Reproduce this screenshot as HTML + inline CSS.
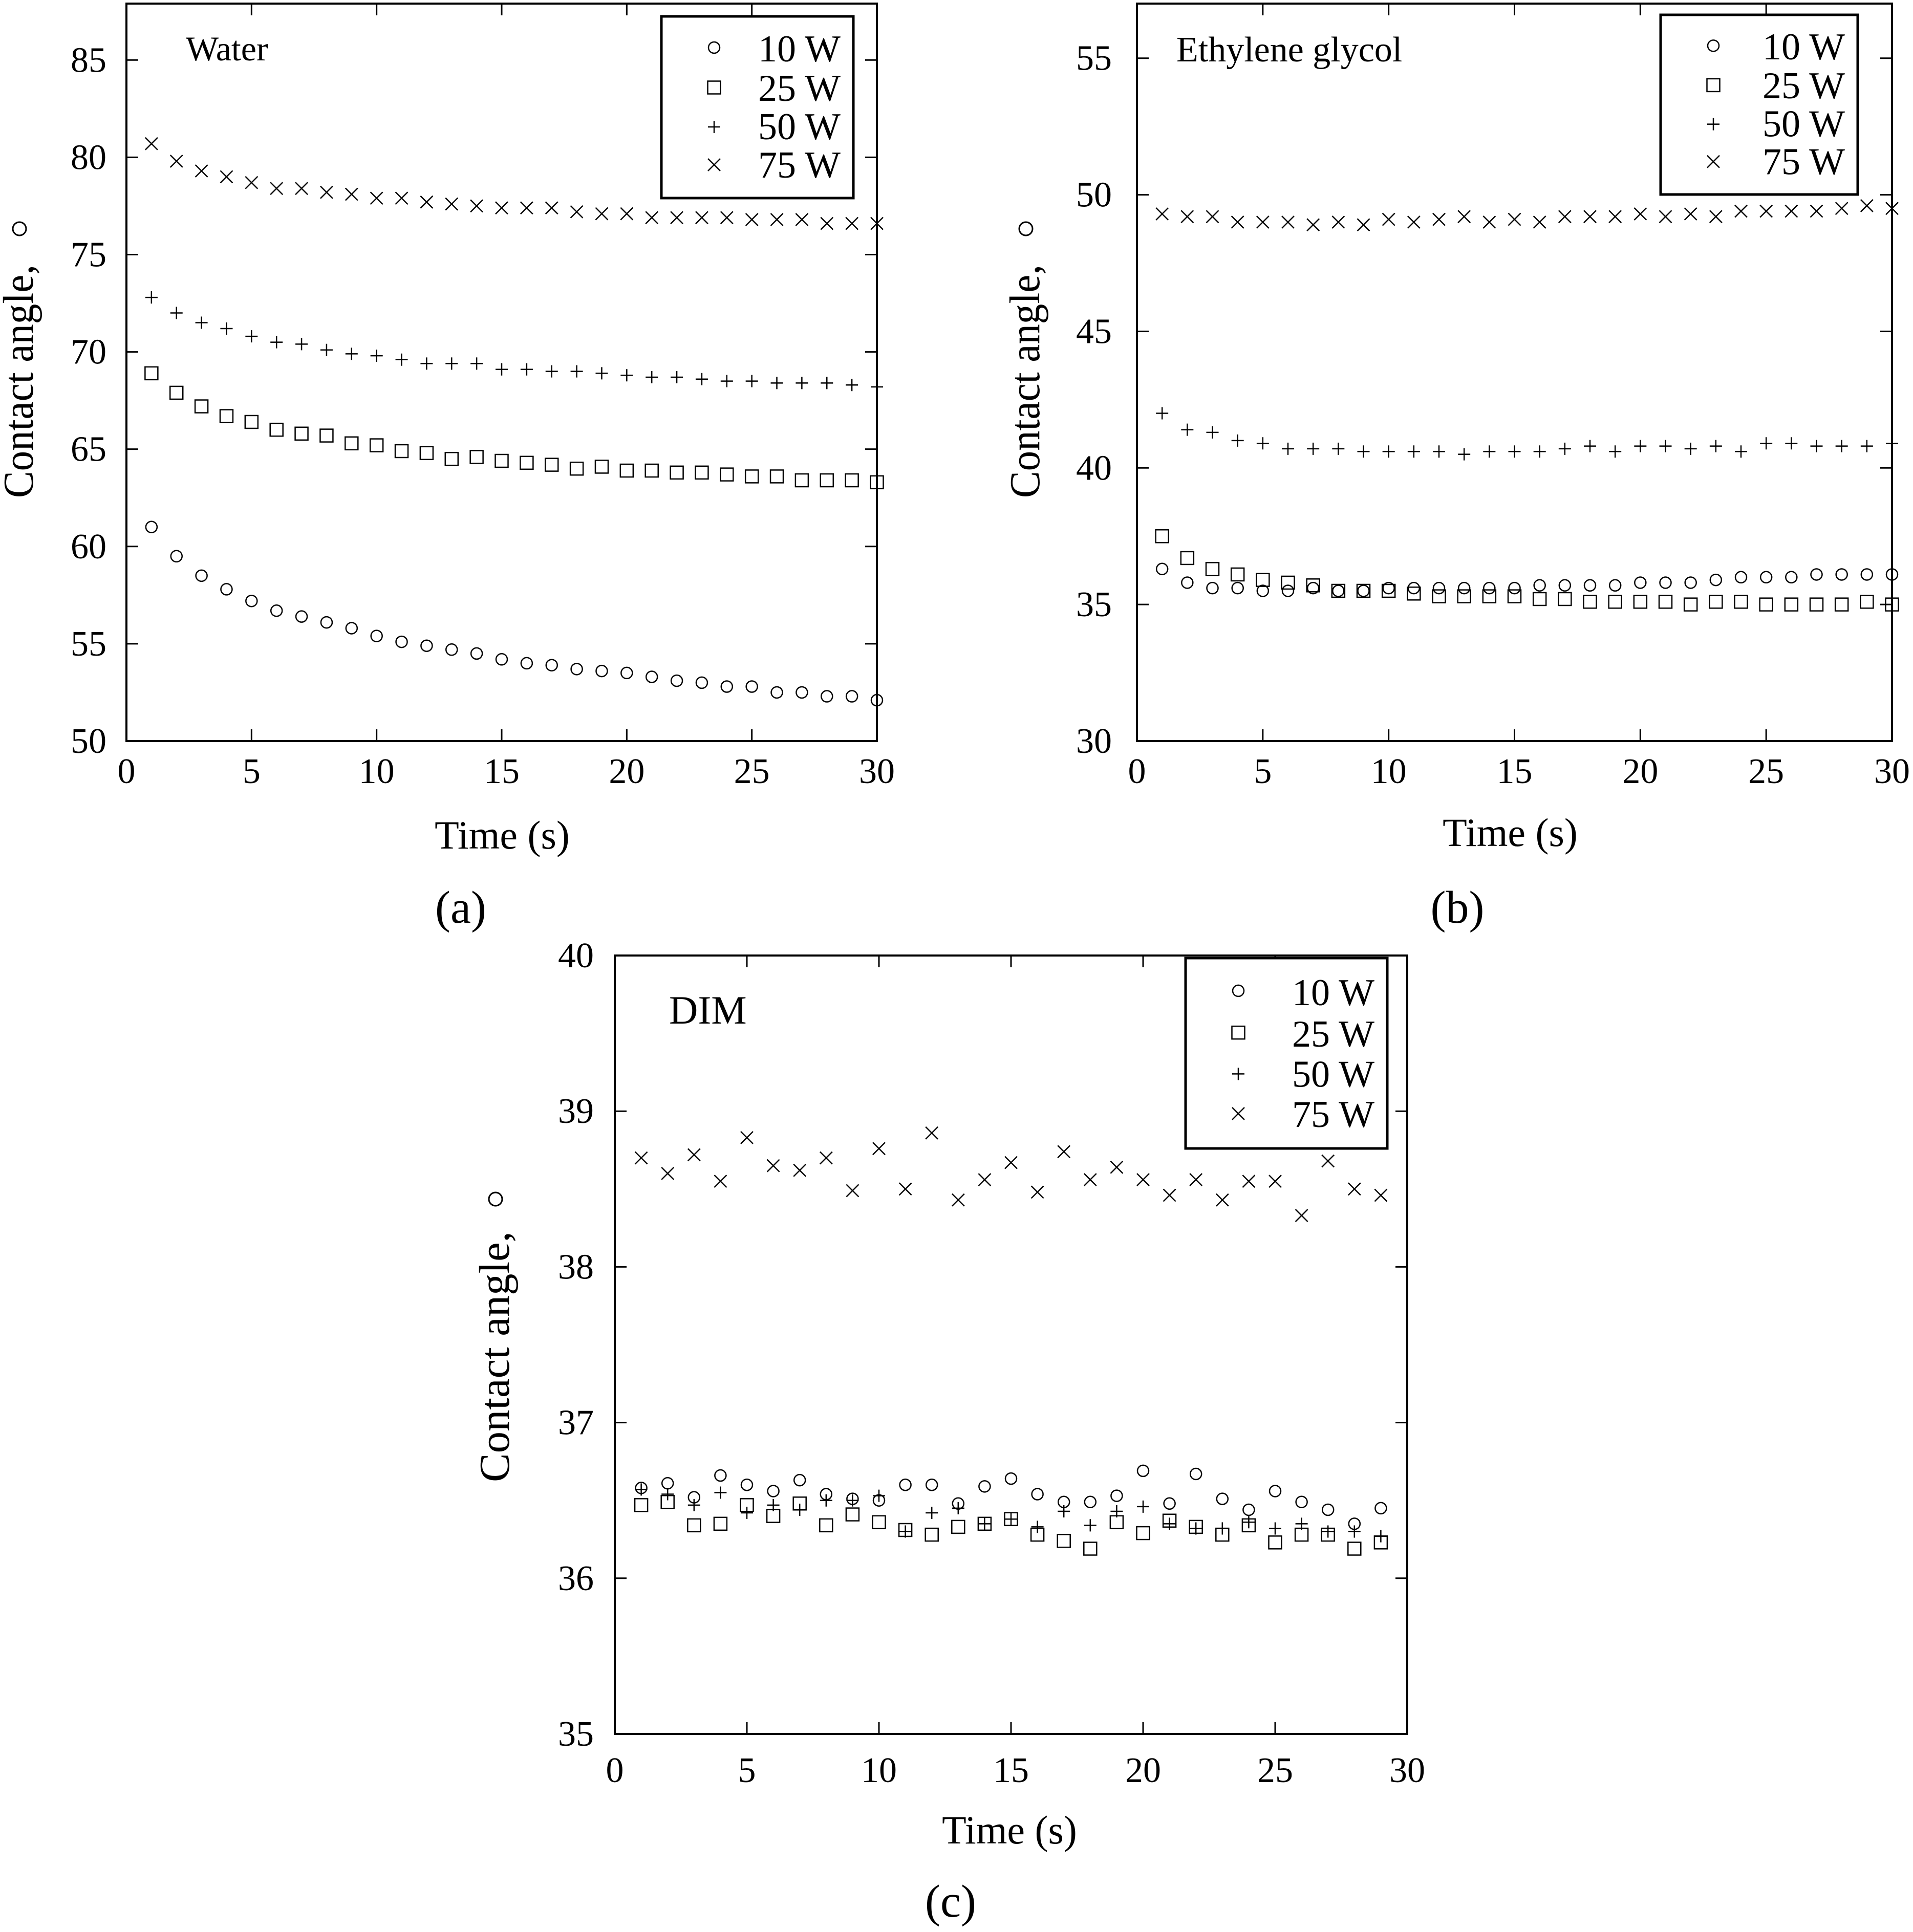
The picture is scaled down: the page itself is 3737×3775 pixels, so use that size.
<!DOCTYPE html>
<html><head><meta charset="utf-8"><style>
html,body{margin:0;padding:0;background:#fff}
svg{display:block}
text{font-family:"Liberation Serif",serif;fill:#000}
</style></head><body>
<svg id="fig" width="3737" height="3775" viewBox="0 0 3737 3775" xmlns="http://www.w3.org/2000/svg"></svg>
<script>
// ---- data ----
const timesAB = [1,2,3,4,5,6,7,8,9,10,11,12,13,14,15,16,17,18,19,20,21,22,23,24,25,26,27,28,29,30];
const timesC = [1,2,3,4,5,6,7,8,9,10,11,12,13,14,15,16,17,18,19,20,21,22,23,24,25,26,27,28,29];
const seriesNames = ["10 W","25 W","50 W","75 W"];
const water10 = [61.0,59.5,58.5,57.8,57.2,56.7,56.4,56.1,55.8,55.4,55.1,54.9,54.7,54.5,54.2,54.0,53.9,53.7,53.6,53.5,53.3,53.1,53.0,52.8,52.8,52.5,52.5,52.3,52.3,52.1];
const water25 = [68.9,67.9,67.2,66.7,66.4,66.0,65.8,65.7,65.3,65.2,64.9,64.8,64.5,64.6,64.4,64.3,64.2,64.0,64.1,63.9,63.9,63.8,63.8,63.7,63.6,63.6,63.4,63.4,63.4,63.3];
const water50 = [72.8,72.0,71.5,71.2,70.8,70.5,70.4,70.1,69.9,69.8,69.6,69.4,69.4,69.4,69.1,69.1,69.0,69.0,68.9,68.8,68.7,68.7,68.6,68.5,68.5,68.4,68.4,68.4,68.3,68.2];
const water75 = [80.7,79.8,79.3,79.0,78.7,78.4,78.4,78.2,78.1,77.9,77.9,77.7,77.6,77.5,77.4,77.4,77.4,77.2,77.1,77.1,76.9,76.9,76.9,76.9,76.8,76.8,76.8,76.6,76.6,76.6];
const eg10 = [36.3,35.8,35.6,35.6,35.5,35.5,35.6,35.5,35.5,35.6,35.6,35.6,35.6,35.6,35.6,35.7,35.7,35.7,35.7,35.8,35.8,35.8,35.9,36.0,36.0,36.0,36.1,36.1,36.1,36.1];
const eg25 = [37.5,36.7,36.3,36.1,35.9,35.8,35.7,35.5,35.5,35.5,35.4,35.3,35.3,35.3,35.3,35.2,35.2,35.1,35.1,35.1,35.1,35.0,35.1,35.1,35.0,35.0,35.0,35.0,35.1,35.0];
const eg50 = [42.0,41.4,41.3,41.0,40.9,40.7,40.7,40.7,40.6,40.6,40.6,40.6,40.5,40.6,40.6,40.6,40.7,40.8,40.6,40.8,40.8,40.7,40.8,40.6,40.9,40.9,40.8,40.8,40.8,40.9];
const eg75 = [49.3,49.2,49.2,49.0,49.0,49.0,48.9,49.0,48.9,49.1,49.0,49.1,49.2,49.0,49.1,49.0,49.2,49.2,49.2,49.3,49.2,49.3,49.2,49.4,49.4,49.4,49.4,49.5,49.6,49.5];
const dim10 = [36.58,36.61,36.52,36.66,36.6,36.56,36.63,36.54,36.51,36.5,36.6,36.6,36.48,36.59,36.64,36.54,36.49,36.49,36.53,36.69,36.48,36.67,36.51,36.44,36.56,36.49,36.44,36.35,36.45];
const dim25 = [36.47,36.49,36.34,36.35,36.47,36.4,36.48,36.34,36.41,36.36,36.31,36.28,36.33,36.35,36.38,36.28,36.24,36.19,36.36,36.29,36.37,36.33,36.28,36.34,36.23,36.28,36.28,36.19,36.23];
const dim50 = [36.57,36.54,36.47,36.55,36.42,36.47,36.44,36.5,36.5,36.53,36.3,36.42,36.45,36.35,36.38,36.33,36.43,36.34,36.43,36.46,36.35,36.32,36.32,36.36,36.32,36.35,36.3,36.3,36.27];
const dim75 = [38.7,38.6,38.72,38.55,38.83,38.65,38.62,38.7,38.49,38.76,38.5,38.86,38.43,38.56,38.67,38.48,38.74,38.56,38.64,38.56,38.46,38.56,38.43,38.55,38.55,38.33,38.68,38.5,38.46];
const xTicks = [0,5,10,15,20,25,30];
const yTicksA = [50,55,60,65,70,75,80,85];
const yTicksB = [30,35,40,45,50,55];
const yTicksC = [35,36,37,38,39,40];

const NS="http://www.w3.org/2000/svg";
const svg=document.getElementById('fig');
function mk(tag,attrs,parent){const e=document.createElementNS(NS,tag);for(const k in attrs)e.setAttribute(k,attrs[k]);(parent||svg).appendChild(e);return e;}
function txt(s,attrs,parent){const e=mk('text',attrs,parent);e.textContent=s;return e;}
const markerShapes=['circle','square','plus','cross'];
function marker(g,shape,cx,cy){
  let e;
  if(shape==='circle'){e=mk('circle',{cx:cx,cy:cy,r:11,fill:'none',stroke:'#000','stroke-width':2.5},g);}
  else if(shape==='square'){e=mk('rect',{x:cx-12.5,y:cy-12.5,width:25,height:25,fill:'none',stroke:'#000','stroke-width':2.5},g);}
  else if(shape==='plus'){e=mk('path',{d:`M${cx-12} ${cy}H${cx+12}M${cx} ${cy-12}V${cy+12}`,stroke:'#000','stroke-width':2.5,fill:'none'},g);}
  else {e=mk('path',{d:`M${cx-12} ${cy-12}L${cx+12} ${cy+12}M${cx+12} ${cy-12}L${cx-12} ${cy+12}`,stroke:'#000','stroke-width':2.5,fill:'none'},g);}
  return e;
}
function panel(p){
  const g=mk('g',{});
  
  
  const sx=v=>p.x0+(v-0)/30*(p.x1-p.x0);
  const sy=v=>p.y1-(v-p.ymin)/(p.ymax-p.ymin)*(p.y1-p.y0);
  const fr=mk('rect',{x:p.x0,y:p.y0,width:p.x1-p.x0,height:p.y1-p.y0,fill:'none',stroke:'#000','stroke-width':4},g);
  
  
  const tl=23;
  xTicks.forEach(t=>{
    const x=sx(t);
    const tk=mk('path',{d:`M${x} ${p.y1}V${p.y1-tl}M${x} ${p.y0}V${p.y0+tl}`,stroke:'#000','stroke-width':3},g);
    
    
    const lb=txt(String(t),{x:x,y:p.y1+p.xlabOff,'font-size':70,'text-anchor':'middle'},g);
    
    
  });
  p.yTicks.forEach(t=>{
    const y=sy(t);
    const tk=mk('path',{d:`M${p.x0} ${y}H${p.x0+tl}M${p.x1} ${y}H${p.x1-tl}`,stroke:'#000','stroke-width':3},g);
    
    
    const lb=txt(String(t),{x:p.ylabX,y:y+23,'font-size':70,'text-anchor':'end'},g);
    
    
  });
  p.series.forEach((vals,si)=>{
    const sg=mk('g',{},g);
    
    
    vals.forEach((v,i)=>{
      const m=marker(sg,markerShapes[si],sx(p.times[i]),sy(v));
      
      
    });
  });
  const L=p.leg;
  const lg=mk('g',{},g);
  
  
  mk('rect',{x:L.x,y:L.y,width:L.w,height:L.h,fill:'#fff',stroke:'#000','stroke-width':5},lg);
  const rowsC=[61,139,216,290], rowsB=[88,165,240,315];
  seriesNames.forEach((n,i)=>{
    const m=marker(lg,markerShapes[i],L.x+103,L.y+rowsC[i]*L.h/355);
    
    
    const t=txt(n,{x:L.x+L.w-25,y:L.y+rowsB[i]*L.h/355,'font-size':74,'text-anchor':'end'},lg);
    
    
  });
  const tt=txt(p.title,{x:p.titleX,y:p.titleY,'font-size':p.titleSize},g);
  
  
  const xt=txt('Time (s)',{x:p.xtX,y:p.xtY,'font-size':78,'text-anchor':'middle'},g);
  
  
  const yt=txt('Contact angle,',{x:0,y:0,'font-size':84,transform:`translate(${p.ytX},${p.ytBottom}) rotate(-90)`,textLength:p.ytLen,lengthAdjust:'spacingAndGlyphs'},g);
  
  
  const deg=mk('circle',{cx:p.ytX-26,cy:p.ytBottom-p.degOff,r:13,fill:'none',stroke:'#000','stroke-width':3},g);
  
  
  const pl=txt(p.panelLabel,{x:p.plX,y:p.plY,'font-size':90,'text-anchor':'middle'},g);
  
  
}
panel({name:'panel-water',x0:247,x1:1713,y0:7,y1:1448,ymin:50,ymax:87.9,yTicks:yTicksA,times:timesAB,
  series:[water10,water25,water50,water75],xlabOff:82,ylabX:208,
  leg:{x:1292,y:32,w:375,h:355},title:'Water',titleX:363,titleY:118,titleSize:68,
  xtX:981,xtY:1658,ytX:64,ytBottom:973,ytLen:456,degOff:526,panelLabel:'(a)',plX:900,plY:1803});
panel({name:'panel-ethylene-glycol',x0:2221,x1:3696,y0:7,y1:1448,ymin:30,ymax:57,yTicks:yTicksB,times:timesAB,
  series:[eg10,eg25,eg50,eg75],xlabOff:82,ylabX:2172,
  leg:{x:3244,y:29,w:385,h:351},title:'Ethylene glycol',titleX:2298,titleY:120,titleSize:70,
  xtX:2950,xtY:1653,ytX:2030,ytBottom:973,ytLen:456,degOff:526,panelLabel:'(b)',plX:2847,plY:1803});
panel({name:'panel-dim',x0:1201,x1:2749,y0:1867,y1:3388,ymin:35,ymax:40,yTicks:yTicksC,times:timesC,
  series:[dim10,dim25,dim50,dim75],xlabOff:94,ylabX:1160,
  leg:{x:2316,y:1872,w:394,h:372},title:'DIM',titleX:1307,titleY:2000,titleSize:78,
  xtX:1972,xtY:3602,ytX:994,ytBottom:2896,ytLen:490,degOff:553,panelLabel:'(c)',plX:1857,plY:3745});
</script>
</body></html>
